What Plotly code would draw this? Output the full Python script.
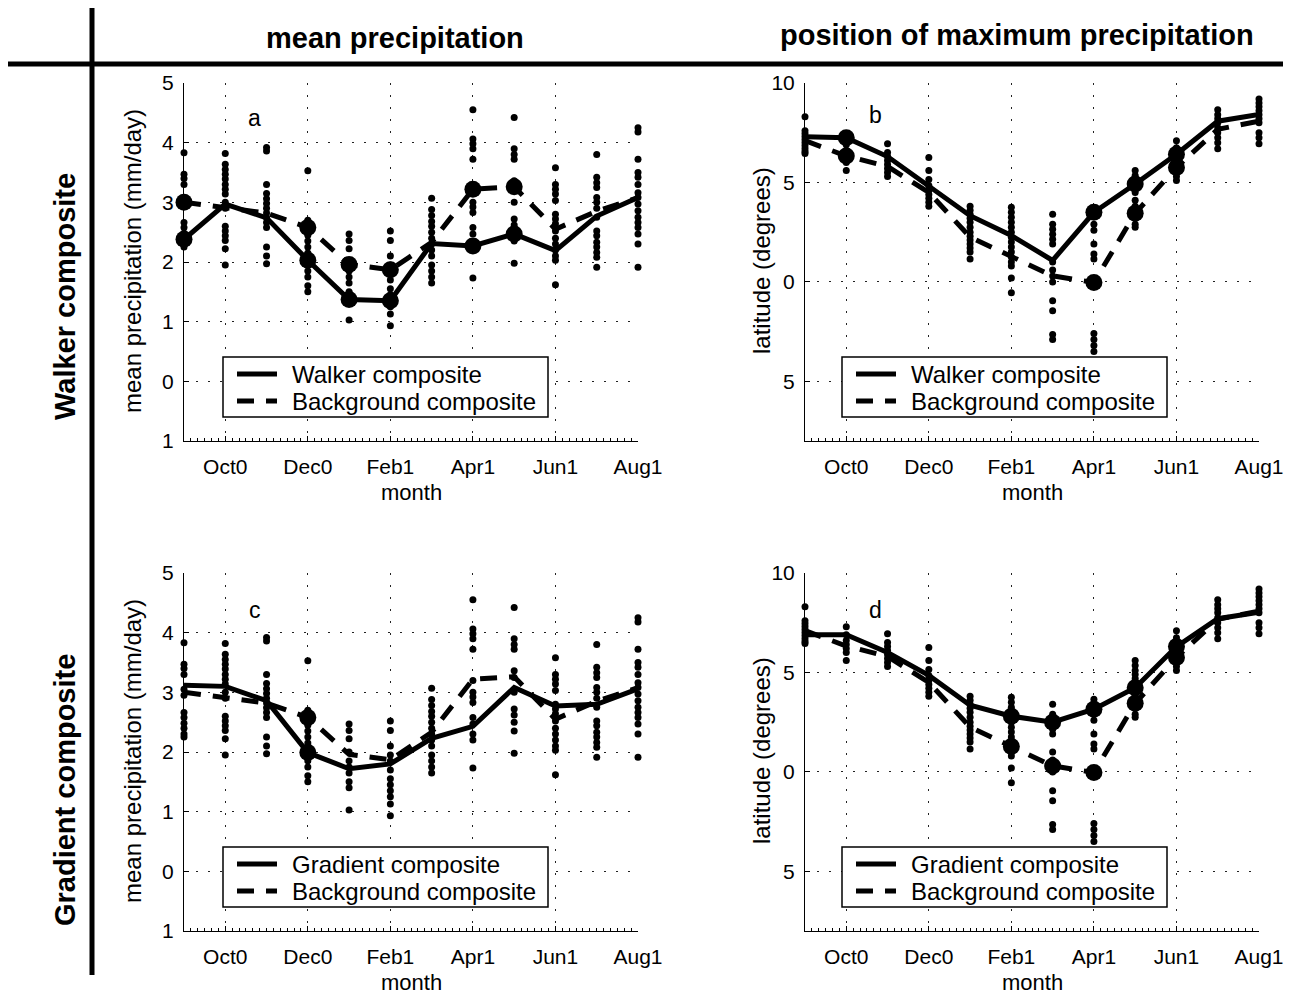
import plotly.graph_objects as go

# The page body adds an 8px margin, so the figure is drawn 8px in from the corner.
OFF = 8
W_FIG, H_FIG = 1299 - OFF, 995 - OFF

months = ["Sep0", "Oct0", "Nov0", "Dec0", "Jan1", "Feb1", "Mar1", "Apr1", "May1", "Jun1", "Jul1", "Aug1"]
tick_months = ["Oct0", "Dec0", "Feb1", "Apr1", "Jun1", "Aug1"]

# individual-year values (shared by panels a/c and b/d)
precip_years = [
    [3.83, 3.47, 3.40, 3.30, 3.05, 2.95, 2.66, 2.58, 2.48, 2.40, 2.30, 2.25],
    [3.82, 3.64, 3.55, 3.47, 3.39, 3.30, 3.22, 3.14, 3.00, 2.90, 2.60, 2.52, 2.44, 2.36, 2.22, 1.95],
    [3.92, 3.86, 3.30, 3.15, 3.06, 2.98, 2.90, 2.82, 2.74, 2.66, 2.58, 2.25, 2.10, 1.97],
    [3.53, 2.70, 2.62, 2.55, 2.45, 2.35, 2.25, 2.15, 2.05, 1.95, 1.85, 1.75, 1.60, 1.50],
    [2.47, 2.36, 2.22, 2.00, 1.85, 1.75, 1.65, 1.50, 1.40, 1.03],
    [2.52, 2.36, 2.10, 1.95, 1.85, 1.70, 1.55, 1.45, 1.35, 1.25, 1.13, 0.93],
    [3.07, 2.88, 2.78, 2.68, 2.60, 2.50, 2.40, 2.30, 2.20, 2.10, 1.95, 1.85, 1.75, 1.65],
    [4.55, 4.06, 3.98, 3.90, 3.72, 3.20, 3.00, 2.92, 2.83, 2.58, 2.47, 2.30, 2.20, 1.73],
    [4.42, 3.90, 3.80, 3.72, 3.36, 3.25, 3.00, 2.72, 2.62, 2.50, 2.35, 1.98],
    [3.58, 3.30, 3.22, 3.14, 3.03, 2.80, 2.72, 2.64, 2.52, 2.40, 2.30, 2.20, 2.10, 2.03, 1.62],
    [3.80, 3.42, 3.33, 3.25, 3.08, 3.00, 2.90, 2.75, 2.52, 2.44, 2.33, 2.25, 2.16, 2.08, 1.91],
    [4.25, 4.18, 3.72, 3.50, 3.42, 3.30, 3.16, 3.08, 2.97, 2.86, 2.75, 2.66, 2.58, 2.47, 2.30, 1.91],
]
lat_years = [
    [8.30, 7.60, 7.45, 7.30, 7.15, 7.00, 6.85, 6.70, 6.55, 6.45],
    [7.30, 6.90, 6.60, 6.40, 6.20, 6.00, 5.60],
    [6.95, 6.50, 6.30, 6.10, 5.90, 5.70, 5.50, 5.30],
    [6.25, 5.60, 5.15, 4.85, 4.60, 4.40, 4.20, 4.00, 3.80],
    [3.80, 3.60, 3.40, 3.20, 3.00, 2.75, 2.50, 2.30, 2.10, 1.90, 1.70, 1.50, 1.15],
    [3.75, 3.50, 3.25, 3.00, 2.75, 2.50, 2.25, 2.00, 1.75, 1.50, 1.25, 1.00, 0.80, 0.20, -0.55],
    [3.40, 2.90, 2.65, 2.40, 2.15, 1.90, 1.00, 0.60, 0.30, 0.00, -0.95, -1.45, -2.65, -2.90],
    [3.65, 3.30, 2.90, 2.60, 1.90, 1.40, 1.15, -2.60, -2.90, -3.20, -3.50],
    [5.60, 5.35, 5.10, 4.90, 4.70, 4.50, 4.10, 3.80, 3.50, 3.20, 2.90, 2.75],
    [7.10, 6.75, 6.50, 6.30, 6.10, 5.90, 5.70, 5.50, 5.30, 5.10],
    [8.65, 8.40, 8.20, 8.00, 7.75, 7.50, 7.25, 7.00, 6.70],
    [9.20, 9.00, 8.80, 8.60, 8.40, 8.20, 8.00, 7.50, 7.25, 6.95],
]

# composites
walker_precip = [2.38, 2.97, 2.74, 2.03, 1.37, 1.35, 2.31, 2.27, 2.47, 2.19, 2.77, 3.08]
gradient_precip = [3.12, 3.10, 2.86, 1.99, 1.72, 1.80, 2.23, 2.43, 3.08, 2.77, 2.80, 3.06]
background_precip = [3.00, 2.90, 2.82, 2.58, 1.96, 1.87, 2.33, 3.22, 3.26, 2.55, 2.85, 3.08]
walker_lat = [7.30, 7.25, 6.30, 4.83, 3.33, 2.33, 1.08, 3.50, 4.92, 6.42, 8.08, 8.42]
gradient_lat = [6.90, 6.90, 6.00, 4.85, 3.35, 2.80, 2.50, 3.15, 4.23, 6.30, 7.70, 8.03]
background_lat = [7.10, 6.33, 5.80, 4.50, 2.25, 1.28, 0.30, -0.03, 3.45, 5.75, 7.67, 8.08]

# months (indices) marked with large dots
sig_a = [0, 3, 4, 5, 7, 8]
sig_b = [1, 7, 8, 9]
sig_c = [3]
sig_d = [5, 6, 7, 8, 9]

precip_ticks = [-1, 0, 1, 2, 3, 4, 5]
precip_ticktext = ["1", "0", "1", "2", "3", "4", "5"]
lat_ticks = [-5, 0, 5, 10]
lat_ticktext = ["5", "0", "5", "10"]

FONT = "Liberation Sans, Arial, Helvetica, sans-serif"
DASH = "17px,12px"
GRID_DASH = "1.5px,10.5px"

def px(x):
    return (x - OFF) / W_FIG

def py(y):
    return 1 - (y - OFF) / H_FIG

panels = [
    ("", (184, 638), (83, 441), precip_years, walker_precip, "Walker composite", background_precip, sig_a,
     [-1, 5], precip_ticks, precip_ticktext, "a", (1.72, 4.42), (223, 357)),
    ("2", (805, 1259), (83, 441), lat_years, walker_lat, "Walker composite", background_lat, sig_b,
     [-8, 10], lat_ticks, lat_ticktext, "b", (1.72, 8.4), (842, 357)),
    ("3", (184, 638), (573, 931), precip_years, gradient_precip, "Gradient composite", background_precip, sig_c,
     [-1, 5], precip_ticks, precip_ticktext, "c", (1.72, 4.38), (223, 847)),
    ("4", (805, 1259), (573, 931), lat_years, gradient_lat, "Gradient composite", background_lat, sig_d,
     [-8, 10], lat_ticks, lat_ticktext, "d", (1.72, 8.15), (842, 847)),
]

fig = go.Figure()
layout = dict(
    width=W_FIG, height=H_FIG, autosize=False,
    margin=dict(l=0, r=0, t=0, b=0, pad=0, autoexpand=False),
    paper_bgcolor="white", plot_bgcolor="white",
    font=dict(family=FONT, color="black", size=21),
    showlegend=False,
)
annotations = []
shapes = []
month_idx = list(range(len(months)))

def ann(text, x, y, size, angle=0, bold=False, xanchor="center"):
    f = dict(size=size, family=FONT, color="black")
    if bold:
        f["weight"] = "bold"
    return dict(text=text, x=px(x), y=py(y), xref="paper", yref="paper", xanchor=xanchor,
                yanchor="middle", textangle=angle, showarrow=False, font=f)

def pline(x0, y0, x1, y1, width, dash="solid"):
    return dict(type="line", xref="paper", yref="paper", x0=px(x0), x1=px(x1), y0=py(y0), y1=py(y1),
                line=dict(color="black", width=width, dash=dash), layer="above")

for (suf, xd, yd, years, comp, comp_name, bg, sig, yr, yt, ytt, letter, lpos, legpos) in panels:
    xa, ya = "x" + suf, "y" + suf
    dx = [i for i, vals in enumerate(years) for _ in vals]
    dy = [v for vals in years for v in vals]
    fig.add_trace(go.Scatter(x=dx, y=dy, mode="markers", xaxis=xa, yaxis=ya,
                             marker=dict(color="black", size=7), name="individual years",
                             cliponaxis=False, hoverinfo="skip"))
    fig.add_trace(go.Scatter(x=month_idx, y=comp, mode="lines", xaxis=xa, yaxis=ya,
                             line=dict(color="black", width=5), name=comp_name, cliponaxis=False))
    fig.add_trace(go.Scatter(x=month_idx, y=bg, mode="lines", xaxis=xa, yaxis=ya,
                             line=dict(color="black", width=5, dash=DASH),
                             name="Background composite", cliponaxis=False))
    fig.add_trace(go.Scatter(x=sig + sig, y=[comp[i] for i in sig] + [bg[i] for i in sig],
                             mode="markers", xaxis=xa, yaxis=ya,
                             marker=dict(color="black", size=17), name="significant",
                             cliponaxis=False))

    layout["xaxis" + suf] = dict(
        domain=[px(xd[0]), px(xd[1])], anchor=ya, range=[0, 11], automargin=False,
        tickmode="array", tickvals=[months.index(m) for m in tick_months], ticktext=tick_months,
        ticks="inside", ticklen=5, tickcolor="black", tickwidth=1,
        showline=True, linecolor="black", linewidth=1, mirror=False,
        showgrid=True, gridcolor="#222", gridwidth=1, griddash=GRID_DASH,
        zeroline=False, ticklabelstandoff=7,
        tickfont=dict(size=21),
        minor=dict(tickmode="linear", tick0=0, dtick=1 / 6, ticks="inside", ticklen=3,
                   tickcolor="black", showgrid=False),
    )
    layout["yaxis" + suf] = dict(
        domain=[py(yd[1]), py(yd[0])], anchor=xa, range=yr, automargin=False,
        tickmode="array", tickvals=yt, ticktext=ytt,
        ticks="inside", ticklen=5, tickcolor="black", tickwidth=1,
        showline=True, linecolor="black", linewidth=1, mirror=False,
        showgrid=True, gridcolor="#222", gridwidth=1, griddash=GRID_DASH,
        zeroline=False, ticklabelstandoff=5,
        tickfont=dict(size=21),
    )
    # panel letter and x title
    annotations.append(dict(text=letter, x=lpos[0], y=lpos[1], xref=xa, yref=ya,
                            xanchor="center", yanchor="middle",
                            showarrow=False, font=dict(size=23)))
    annotations.append(ann("month", (xd[0] + xd[1]) / 2, yd[1] + 51, 22))

    # legend box
    lx, ly = legpos
    shapes.append(dict(type="rect", xref="paper", yref="paper", x0=px(lx), x1=px(lx + 325),
                       y0=py(ly), y1=py(ly + 60), fillcolor="white",
                       line=dict(color="black", width=1.5), layer="above"))
    shapes.append(pline(lx + 14, ly + 17, lx + 54, ly + 17, 5))
    shapes.append(pline(lx + 14, ly + 44, lx + 54, ly + 44, 5, DASH))
    annotations.append(ann(comp_name, lx + 67, ly + 17, 24, xanchor="left"))
    annotations.append(ann("Background composite", lx + 67, ly + 44, 24, xanchor="left"))

# y-axis titles
annotations += [
    ann("mean precipitation (mm/day)", 132, 261, 24, -90),
    ann("latitude (degrees)", 761, 261, 24, -90),
    ann("mean precipitation (mm/day)", 132, 751, 24, -90),
    ann("latitude (degrees)", 761, 751, 24, -90),
]

# row / column headers
annotations += [
    ann("mean precipitation", 395, 38, 29, 0, True),
    ann("position of maximum precipitation", 1017, 35, 29, 0, True),
    ann("Walker composite", 65, 297, 29, -90, True),
    ann("Gradient composite", 65, 790, 29, -90, True),
]
shapes += [
    pline(92, 8, 92, 975, 5),
    pline(8, 64, 1283, 64, 5),
]
layout["annotations"] = annotations
layout["shapes"] = shapes

fig.update_layout(**layout)
fig.write_html("out.html")
